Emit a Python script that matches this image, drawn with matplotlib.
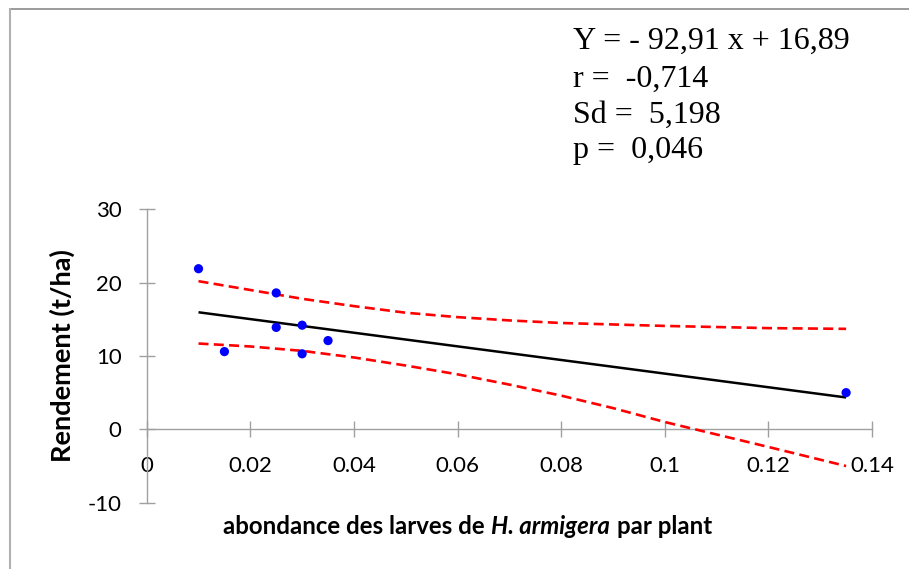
import matplotlib as mpl
mpl.use('Agg')
import matplotlib.pyplot as plt
from matplotlib.lines import Line2D

plt.rcParams['axes.unicode_minus'] = False

# abondance des larves (x) et rendement (y)
larves = [0.010, 0.015, 0.025, 0.025, 0.030, 0.030, 0.035, 0.135]
rendement = [21.9, 10.6, 18.6, 13.9, 14.2, 10.3, 12.1, 5.0]

# droite de regression
pente = -92.91
ordonnee = 16.89

# bandes de confiance
x_bande = [0.010, 0.020, 0.030, 0.040, 0.050, 0.060, 0.070, 0.080, 0.090, 0.100, 0.110, 0.120, 0.135]
bande_haut = [20.2, 19.0, 17.8, 16.8, 15.9, 15.3, 14.85, 14.5, 14.3, 14.1, 13.95, 13.8, 13.7]
bande_bas = [11.7, 11.3, 10.7, 9.8, 8.7, 7.5, 6.1, 4.6, 2.9, 1.0, -0.7, -2.4, -5.0]

stats_lignes = ['Y = - 92,91 x + 16,89', 'r =  -0,714', 'Sd =  5,198', 'p =  0,046']

x_ticks = [0, 0.02, 0.04, 0.06, 0.08, 0.1, 0.12, 0.14]
x_tick_labels = ['0', '0.02', '0.04', '0.06', '0.08', '0.1', '0.12', '0.14']
y_ticks = [-10, 0, 10, 20, 30]

W, H = 909, 569
fig = plt.figure(figsize=(W / 100, H / 100), dpi=100)
ax = fig.add_axes([146.7 / W, 1 - 502.7 / H, (872 - 146.7) / W, (502.7 - 209.3) / H])

gris = '#A0A0A0'
police = 'Lato'

# lignes
x_fit = [min(larves), max(larves)]
y_fit = [pente * v + ordonnee for v in x_fit]
ax.plot(x_fit, y_fit, color='black', lw=1.8, solid_capstyle='butt', zorder=3)
ax.plot(x_bande, bande_haut, color='#FF0000', lw=1.9, dashes=(3.8, 2.0), zorder=3)
ax.plot(x_bande, bande_bas, color='#FF0000', lw=1.9, dashes=(3.8, 2.0), zorder=3)
ax.scatter(larves, rendement, s=44, color='#0000FF', edgecolors='none', zorder=4)

ax.set_xlim(0, 0.14)
ax.set_ylim(-10, 30)
ax.spines['top'].set_visible(False)
ax.spines['right'].set_visible(False)
ax.spines['bottom'].set_position(('data', 0))
for s in ['left', 'bottom']:
    ax.spines[s].set_color(gris)
    ax.spines[s].set_linewidth(1.0)

ax.set_xticks(x_ticks)
ax.set_xticklabels(x_tick_labels)
ax.set_yticks(y_ticks)
ax.tick_params(axis='both', direction='inout', length=11, width=1.0, color=gris,
               labelsize=16, labelcolor='black')
ax.tick_params(axis='x', pad=13.5)
ax.tick_params(axis='y', pad=12.5)
for lab in ax.get_xticklabels() + ax.get_yticklabels():
    lab.set_fontfamily(police)
ax.patch.set_alpha(0)

# titre des axes
fig.text(62 / W, 1 - 356 / H, 'Rendement (t/ha)', rotation=90, ha='center', va='center',
         fontsize=19.5, fontweight='bold', family=police)

t1 = fig.text(222.7 / W, 1 - 534.3 / H, 'abondance des larves de', ha='left', va='baseline',
              fontsize=17.3, fontweight='bold', family=police)
t2 = ax.annotate('H. armigera', xy=(1, 0), xycoords=t1, xytext=(4.8, 0), textcoords='offset points',
                 ha='left', va='bottom', fontsize=17.3, fontweight='bold', fontstyle='italic', family=police)
t3 = ax.annotate('par plant', xy=(1, 0), xycoords=t2, xytext=(4.8, 0), textcoords='offset points',
                 ha='left', va='bottom', fontsize=17.3, fontweight='bold', family=police)

# statistiques
bases = [49, 87, 123, 158]
for txt, b in zip(stats_lignes, bases):
    fig.text(572.7 / W, 1 - b / H, txt, ha='left', va='baseline', fontsize=23,
             family='Liberation Serif', color='black')

# cadre
fig.add_artist(Line2D([10 / W, 1], [1 - 9 / H, 1 - 9 / H], color='#8A8A8A', lw=1.2))
fig.add_artist(Line2D([10 / W, 10 / W], [0, 1 - 9 / H], color='#B0B0B0', lw=1.5))

fig.savefig('out.png', dpi=100)
